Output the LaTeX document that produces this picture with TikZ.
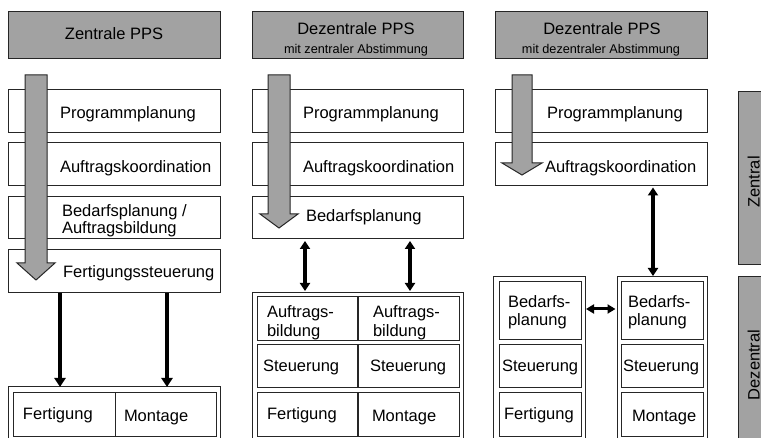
\documentclass[tikz,border=0pt]{standalone}
\usepackage{fontspec}
\setmainfont{Liberation Sans}
\usetikzlibrary{arrows.meta,fit}
\definecolor{pgray}{HTML}{A2A2A2}
\definecolor{edge}{HTML}{262626}

\tikzset{
  box/.style={draw=edge, line width=1pt, fill=white, rectangle, inner sep=0pt, outer sep=0pt},
  headbox/.style={box, fill=pgray},
  lbl/.style={inner sep=0pt, outer sep=0pt, font=\fontsize{16.5}{16}\selectfont},
  lbltwo/.style={lbl, anchor=north west, align=left, font=\fontsize{16.5}{#1}\selectfont},
  sublbl/.style={inner sep=0pt, outer sep=0pt, font=\fontsize{12.7}{14}\selectfont},
  flow/.style={draw=edge, line width=1pt, fill=pgray, line join=miter},
  link/.style={line width=4pt, -{Triangle[length=9pt,width=11pt]}},
  dlink/.style={line width=3.5pt, {Triangle[length=8pt,width=10pt]}-{Triangle[length=8pt,width=10pt]}},
}

\begin{document}
\begin{tikzpicture}[x=1pt, y=-1pt]
\clip (0,0) rectangle (761,438);

% ---------------- column 1: Zentrale PPS ----------------
\node[headbox, fit={(8,12)(220,59)}] (h1) {};
\node[lbl, anchor=base] (h1t) at (114,40) {Zentrale PPS};

\node[box, fit={(8,90)(220,133)}]  (c1p) {};
\node[box, fit={(8,143)(220,186)}] (c1a) {};
\node[box, fit={(8,197)(220,239)}] (c1b) {};
\node[box, fit={(8,250)(220,293)}] (c1f) {};
\node[box, fit={(8,387)(220,442)}] (c1o) {};
\node[box, fit={(13,393)(115,437)}] (c1fe) {};
\node[box, fit={(115,393)(216,437)}] (c1mo) {};

\draw[flow] (25,75) -- (25,263) -- (17,263) -- (36,280) -- (55,263) -- (47,263) -- (47,75) -- cycle;

\node[lbl, anchor=base west] (c1pt) at (60,119) {Programmplanung};
\node[lbltwo=16.5] (c1bt) at (62,205) {Bedarfsplanung /\\Auftragsbildung};
\node[lbl, anchor=base west] (c1at) at (60,173) {Auftragskoordination};
\node[lbl, anchor=base west] (c1ft) at (63,278) {Fertigungssteuerung};
\node[lbl, anchor=base west] (c1fet) at (23,420) {Fertigung};
\node[lbl, anchor=base west] (c1mot) at (124,422) {Montage};

\coordinate (x1a) at (60,0);
\coordinate (x1b) at (167,0);
\draw[link] (c1f.south -| x1a) -- (c1o.north -| x1a);
\draw[link] (c1f.south -| x1b) -- (c1o.north -| x1b);

% ---------------- column 2: Dezentrale PPS, zentrale Abstimmung ----------------
\node[headbox, fit={(252,12)(463,59)}] (h2) {};
\node[lbl, anchor=base] (h2t) at (356,35) {Dezentrale PPS};
\node[sublbl, anchor=base] (h2s) at (356,54) {mit zentraler Abstimmung};

\node[box, fit={(252,90)(463,133)}]  (c2p) {};
\node[box, fit={(252,143)(463,186)}] (c2a) {};
\node[box, fit={(252,197)(463,239)}] (c2b) {};
\node[box, fit={(252,293)(463,442)}] (c2o) {};
\node[box, fit={(257,297)(357,341)}] (c2ab1) {};
\node[box, fit={(358,297)(459,341)}] (c2ab2) {};
\node[box, fit={(257,345)(357,388)}] (c2st1) {};
\node[box, fit={(358,345)(459,388)}] (c2st2) {};
\node[box, fit={(257,393)(357,437)}] (c2fe) {};
\node[box, fit={(358,393)(459,437)}] (c2mo) {};

\draw[flow] (268,75) -- (268,214) -- (260,214) -- (279,228) -- (298,214) -- (290,214) -- (290,75) -- cycle;

\node[lbl, anchor=base west] (c2pt) at (303,119) {Programmplanung};
\node[lbl, anchor=base west] (c2at) at (303,173) {Auftragskoordination};
\node[lbl, anchor=base west] (c2bt) at (306,222) {Bedarfsplanung};
\node[lbltwo=19] (c2ab1t) at (267,306) {Auftrags-\\bildung};
\node[lbltwo=19] (c2ab2t) at (373,306) {Auftrags-\\bildung};
\node[lbl, anchor=base west] (c2st1t) at (263,372) {Steuerung};
\node[lbl, anchor=base west] (c2st2t) at (370,372) {Steuerung};
\node[lbl, anchor=base west] (c2fet) at (267,420) {Fertigung};
\node[lbl, anchor=base west] (c2mot) at (372,422) {Montage};

\coordinate (x2a) at (305,0);
\coordinate (x2b) at (410,0);
\draw[dlink, shorten <=2pt, shorten >=2pt] (c2b.south -| x2a) -- (c2o.north -| x2a);
\draw[dlink, shorten <=2pt, shorten >=2pt] (c2b.south -| x2b) -- (c2o.north -| x2b);

% ---------------- column 3: Dezentrale PPS, dezentrale Abstimmung ----------------
\node[headbox, fit={(495,12)(707,59)}] (h3) {};
\node[lbl, anchor=base] (h3t) at (602,35) {Dezentrale PPS};
\node[sublbl, anchor=base] (h3s) at (601,54) {mit dezentraler Abstimmung};

\node[box, fit={(495,90)(707,133)}]  (c3p) {};
\node[box, fit={(495,143)(707,186)}] (c3a) {};
\node[box, fit={(493,277)(585,442)}] (c3l) {};
\node[box, fit={(617,277)(707,442)}] (c3r) {};
\node[box, fit={(499,282)(581,340)}] (c3bl) {};
\node[box, fit={(499,345)(581,388)}] (c3sl) {};
\node[box, fit={(499,393)(581,437)}] (c3fe) {};
\node[box, fit={(621,282)(703,340)}] (c3br) {};
\node[box, fit={(621,345)(703,388)}] (c3sr) {};
\node[box, fit={(621,393)(703,437)}] (c3mo) {};

\draw[flow] (512,75) -- (512,163) -- (502,163) -- (522,175) -- (542,163) -- (532,163) -- (532,75) -- cycle;

\node[lbl, anchor=base west] (c3pt) at (547,119) {Programmplanung};
\node[lbl, anchor=base west] (c3at) at (545,173) {Auftragskoordination};
\node[lbltwo=18] (c3blt) at (508,296) {Bedarfs-\\planung};
\node[lbltwo=18] (c3brt) at (628,296) {Bedarfs-\\planung};
\node[lbl, anchor=base west] (c3slt) at (502,372) {Steuerung};
\node[lbl, anchor=base west] (c3srt) at (623,372) {Steuerung};
\node[lbl, anchor=base west] (c3fet) at (504,420) {Fertigung};
\node[lbl, anchor=base west] (c3mot) at (632,422) {Montage};

\coordinate (x3) at (653,0);
\coordinate (y3) at (0,309);
\draw[dlink, shorten <=1.5pt, shorten >=1pt] (c3a.south -| x3) -- (c3r.north -| x3);
\draw[line width=3pt, {Triangle[length=8pt,width=9pt]}-{Triangle[length=8pt,width=9pt]}, shorten <=1pt, shorten >=1.5pt] (c3l.east |- y3) -- (c3r.west |- y3);

% ---------------- level bars ----------------
\node[headbox, fit={(738,92)(775,265)}] (zb) {};
\node[headbox, fit={(738,277)(775,445)}] (db) {};
\node[lbl, rotate=90, anchor=base] (zbt) at (759.5,182) {Zentral};
\node[lbl, rotate=90, anchor=base] (dbt) at (759.5,365) {Dezentral};
\end{tikzpicture}
\end{document}
